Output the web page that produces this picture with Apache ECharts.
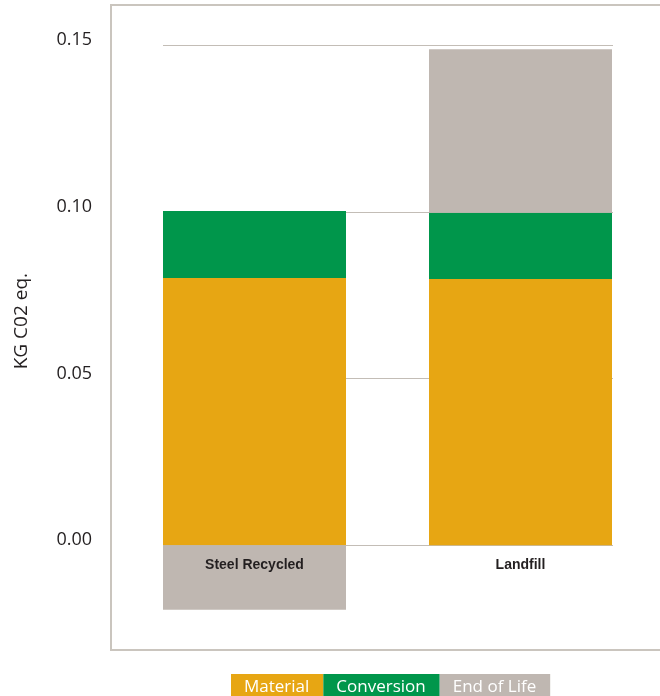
<!DOCTYPE html>
<html>
<head>
<meta charset="utf-8">
<script src="https://cdn.jsdelivr.net/npm/echarts@6/dist/echarts.min.js"></script>
<style>html,body{margin:0;padding:0;background:#fff;}#c{width:660px;height:696px;}</style>
</head>
<body>
<div id="c"></div>
<script>
var categories = ['Steel Recycled', 'Landfill'];
var material = [0.0802, 0.0799];
var conversion = [0.0201, 0.0199];
var endOfLife = [-0.0193, 0.0490];
var seriesNames = ['Material', 'Conversion', 'End of Life'];
var seriesColors = ['#E7A613', '#00964B', '#BFB7B1'];
var yMin = -0.05, yMax = 0.15, yStep = 0.05;

var chart = echarts.init(document.getElementById('c'));
var txt = '#231F20';
var font = '"Open Sans", sans-serif';
var gTop = 45.3, gHeight = 666.7;
var zeroOffset = -gHeight * (0 - yMin) / (yMax - yMin);

chart.setOption({
  animation: false,
  graphic: [{
    type: 'rect', silent: true, z: -10,
    shape: { x: 111, y: 5, width: 600, height: 645 },
    style: { fill: null, stroke: '#CAC5BE', lineWidth: 2 }
  }],
  grid: [
    { left: 163, width: 450, top: gTop, height: gHeight, outerBoundsMode: 'none', containLabel: false },
    { left: 121.5, width: 532, top: gTop, height: gHeight, outerBoundsMode: 'none', containLabel: false }
  ],
  xAxis: [
    { type: 'value', gridIndex: 0, show: false, min: 0, max: 1 },
    {
      type: 'category', gridIndex: 1, data: categories, offset: zeroOffset, z: 10,
      axisLine: { show: false, onZero: false }, axisTick: { show: false },
      axisLabel: { color: txt, fontFamily: '"Liberation Sans", Arial, sans-serif', fontWeight: 'bold', fontSize: 14, margin: 13 }
    }
  ],
  yAxis: [
    {
      type: 'value', gridIndex: 0, min: yMin, max: yMax, interval: yStep,
      axisLine: { show: false }, axisTick: { show: false },
      splitLine: { show: true, lineStyle: { color: '#C3BDB6', width: 1 } },
      axisLabel: {
        color: txt, fontFamily: font, fontSize: 18, margin: 71,
        verticalAlign: 'bottom', lineHeight: 10,
        formatter: function (v) { return v < 0 ? '' : v.toFixed(2); }
      },
      name: 'KG C02 eq.', nameLocation: 'middle', nameRotate: 90, nameGap: 132,
      nameTextStyle: { color: txt, fontFamily: font, fontSize: 19, padding: [0, 0, 0, 115] }
    },
    {
      type: 'value', gridIndex: 1, min: yMin, max: yMax, interval: yStep, show: true,
      axisLine: { show: false }, axisTick: { show: false }, axisLabel: { show: false }, splitLine: { show: false }
    }
  ],
  legend: {
    left: 226, top: 674, padding: 0, icon: 'none', itemWidth: 0, itemHeight: 0, itemGap: -5,
    selectedMode: false,
    textStyle: { color: '#fff', fontFamily: font, fontSize: 17, lineHeight: 17, padding: [4, 14, 5, 13] },
    data: seriesNames.map(function (n, i) {
      return { name: n, textStyle: { backgroundColor: seriesColors[i], color: '#fff' } };
    })
  },
  series: [
    { name: seriesNames[0], type: 'bar', stack: 'total', xAxisIndex: 1, yAxisIndex: 1, barWidth: 183, data: material, itemStyle: { color: seriesColors[0] } },
    { name: seriesNames[1], type: 'bar', stack: 'total', xAxisIndex: 1, yAxisIndex: 1, barWidth: 183, data: conversion, itemStyle: { color: seriesColors[1] } },
    { name: seriesNames[2], type: 'bar', stack: 'total', xAxisIndex: 1, yAxisIndex: 1, barWidth: 183, data: endOfLife, itemStyle: { color: seriesColors[2] } }
  ]
});
</script>
</body>
</html>
